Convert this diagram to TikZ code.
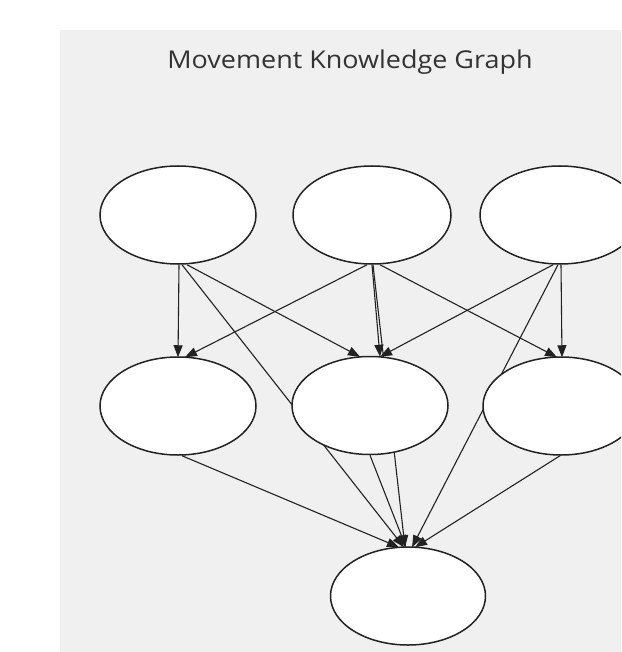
\documentclass[tikz,border=0pt]{standalone}
\usepackage{fontspec}
\setmainfont{Open Sans}
\usetikzlibrary{shapes.geometric,arrows.meta}
\pgfdeclarelayer{bg}
\pgfdeclarelayer{edges}
\pgfsetlayers{bg,edges,main}
\definecolor{panel}{HTML}{F0F0F0}
\definecolor{ink}{HTML}{222222}
\definecolor{titleink}{HTML}{333333}
\tikzset{
  oval/.style={ellipse, draw=ink, line width=1.5pt, fill=white, inner sep=0pt,
    minimum width=156pt, minimum height=98pt},
  edge/.style={draw=ink, line width=1.1pt, -{Triangle[length=12pt,width=9pt]}},
}
\begin{document}
\begin{tikzpicture}[x=1pt,y=-1pt]
\path[use as bounding box] (0,0) rectangle (621,652);
\clip (0,0) rectangle (621,652);
\begin{pgfonlayer}{bg}
\fill[white] (0,0) rectangle (621,652);
\fill[panel] (60,30) rectangle (621,652);
\end{pgfonlayer}
\node[anchor=base, text=titleink, font=\fontsize{24.5}{28}\selectfont, inner sep=0pt] (title) at (350,68.5) {\scalebox{1.1}[1]{Movement Knowledge Graph}};
\node[oval] (TL) at (178,215) {};
\node[oval, minimum width=158pt] (TM) at (372,215) {};
\node[oval, minimum width=160pt] (TR) at (560,215) {};
\node[oval] (ML) at (178,406) {};
\node[oval] (MM) at (370,405.5) {};
\node[oval] (MR) at (561,406) {};
\node[oval, minimum width=155pt] (B) at (408,596) {};
\begin{pgfonlayer}{edges}
\draw[edge] ([xshift=1pt]TL.south) -- ([yshift=-1pt]ML.north);
\draw[edge] ([xshift=9pt]TL.south) -- ([xshift=-10pt,yshift=-1pt]MM.north);
\draw[edge] ([xshift=4pt]TL.south) -- ([xshift=-4pt,yshift=-1pt]B.north);
\draw[edge] ([xshift=-5pt]TM.south) -- ([xshift=7pt,yshift=-1pt]ML.north);
\draw[edge] ([xshift=0pt]TM.south) -- ([xshift=10pt,yshift=-1pt]MM.north);
\draw[edge] ([xshift=8pt]TM.south) -- ([xshift=-4pt,yshift=-1pt]MR.north);
\draw[edge] ([xshift=1pt]TM.south) -- ([xshift=-3pt,yshift=-1pt]B.north);
\draw[edge] ([xshift=-7pt]TR.south) -- ([xshift=10pt,yshift=-1pt]MM.north);
\draw[edge] ([xshift=1pt]TR.south) -- ([xshift=1pt,yshift=-1pt]MR.north);
\draw[edge] ([xshift=-2pt]TR.south) -- ([xshift=4pt,yshift=-1pt]B.north);
\draw[edge] ([xshift=4pt]ML.south) -- ([xshift=-9pt,yshift=-1pt]B.north);
\draw[edge] (MM.south) -- ([xshift=-2pt,yshift=-1pt]B.north);
\draw[edge] ([xshift=-1pt]MR.south) -- ([xshift=7pt,yshift=-1pt]B.north);
\end{pgfonlayer}
\end{tikzpicture}
\end{document}
